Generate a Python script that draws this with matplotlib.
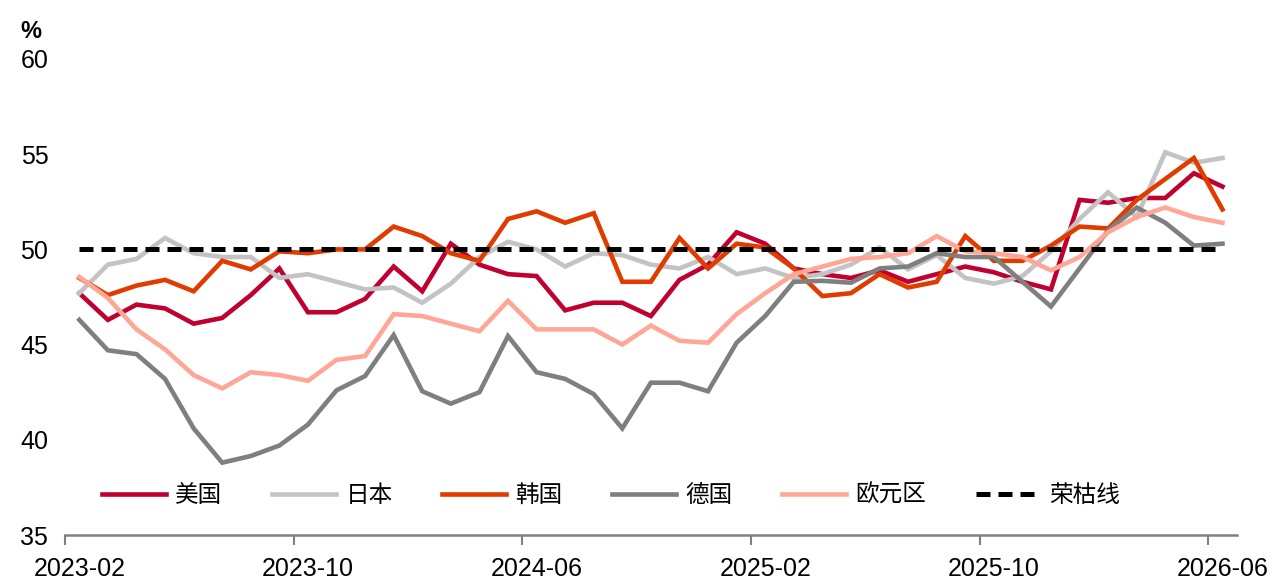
import numpy as np
import matplotlib
matplotlib.use('Agg')
import matplotlib.pyplot as plt
from matplotlib.ticker import FixedLocator

plt.rcParams['font.family'] = ['Liberation Sans', 'Noto Sans CJK SC', 'DejaVu Sans']

# monthly, 2023-02 .. 2026-06
months = []
y, m = 2023, 2
for k in range(41):
	months.append('%d-%02d' % (y, m))
	m += 1
	if m > 12:
		m = 1
		y += 1

usa = [47.7, 46.3, 47.1, 46.9, 46.1, 46.4, 47.6, 49.0, 46.7, 46.7,
	47.4, 49.1, 47.8, 50.3, 49.2, 48.7, 48.6, 46.8, 47.2, 47.2,
	46.5, 48.4, 49.2, 50.9, 50.3, 49.0, 48.7, 48.5, 48.9, 48.3,
	48.7, 49.1, 48.8, 48.3, 47.9, 52.6, 52.45, 52.7, 52.7, 54.0, 53.3]
japan = [47.7, 49.2, 49.5, 50.6, 49.8, 49.6, 49.6, 48.5, 48.7, 48.3,
	47.9, 48.0, 47.2, 48.2, 49.6, 50.4, 50.0, 49.1, 49.8, 49.7,
	49.2, 49.0, 49.6, 48.7, 49.0, 48.5, 48.7, 49.2, 50.1, 48.95,
	49.7, 48.5, 48.2, 48.6, 49.9, 51.6, 53.0, 51.7, 55.1, 54.55, 54.8]
korea = [48.5, 47.6, 48.1, 48.4, 47.8, 49.4, 48.95, 49.9, 49.8, 50.0,
	50.0, 51.2, 50.7, 49.8, 49.4, 51.6, 52.0, 51.4, 51.9, 48.3,
	48.3, 50.6, 49.0, 50.3, 50.1, 49.0, 47.55, 47.7, 48.7, 48.0,
	48.3, 50.7, 49.4, 49.4, 50.2, 51.2, 51.1, 52.6, 53.7, 54.8, 52.1]
germany = [46.3, 44.7, 44.5, 43.2, 40.6, 38.8, 39.15, 39.7, 40.8, 42.6,
	43.35, 45.5, 42.55, 41.9, 42.5, 45.45, 43.55, 43.2, 42.4, 40.6,
	43.0, 43.0, 42.55, 45.1, 46.5, 48.3, 48.35, 48.25, 49.0, 49.1,
	49.8, 49.6, 49.6, 48.3, 47.0, 49.0, 51.0, 52.2, 51.4, 50.2, 50.3]
eurozone = [48.55, 47.45, 45.8, 44.75, 43.4, 42.7, 43.55, 43.4, 43.1, 44.2,
	44.4, 46.6, 46.5, 46.1, 45.7, 47.3, 45.8, 45.8, 45.8, 45.0,
	46.0, 45.2, 45.1, 46.6, 47.7, 48.7, 49.1, 49.5, 49.6, 49.8,
	50.7, 49.9, 49.8, 49.6, 48.9, 49.6, 50.9, 51.7, 52.2, 51.7, 51.4]
threshold = 50

names = ['美国', '日本', '韩国', '德国', '欧元区', '荣枯线']
colors = ['#C0002F', '#C3C3C3', '#E03C00', '#7F7F7F', '#FFA796']
series = [usa, japan, korea, germany, eurozone]

fig = plt.figure(figsize=(12.75, 5.83), dpi=100)
ax = fig.add_axes([0.051, 0.0823, 0.919, 0.8165])

x = np.arange(len(months))
for s, c, n in zip(series, colors, names):
	ax.plot(x, s, color=c, linewidth=3.3, label=n, solid_joinstyle='miter')
ax.plot(x, [threshold] * len(x), color='black', linewidth=3.6, linestyle=(0, (2.8, 1.6)), label=names[5])

ax.set_xlim(-0.5, len(months) - 0.5)
ax.set_ylim(35, 60)
ax.set_yticks([35, 40, 45, 50, 55, 60])

# tick marks on category boundaries, labels on category centres
ax.xaxis.set_major_locator(FixedLocator(np.arange(-0.5, 41, 8)))
ax.xaxis.set_minor_locator(FixedLocator(np.arange(0, 41, 8)))
ax.set_xticklabels([], minor=False)
ax.set_xticklabels([months[i] for i in range(0, 41, 8)], minor=True)
ax.tick_params(axis='x', which='major', direction='out', length=7, width=1.5, color='#808080')
ax.tick_params(axis='x', which='minor', length=0, pad=16, labelsize=18)
ax.tick_params(axis='y', length=0, pad=12, labelsize=18)

for side in ['top', 'right', 'left']:
	ax.spines[side].set_visible(False)
ax.spines['bottom'].set_color('#808080')
ax.spines['bottom'].set_linewidth(1.8)

fig.text(0.016, 0.935, '%', fontsize=17, fontweight='bold')

ax.legend(loc='center', bbox_to_anchor=(0.466, 0.082), ncol=6, frameon=False,
	fontsize=17, handlelength=2.7, handletextpad=0.4, columnspacing=2.1)

plt.savefig('out.png', dpi=100)
